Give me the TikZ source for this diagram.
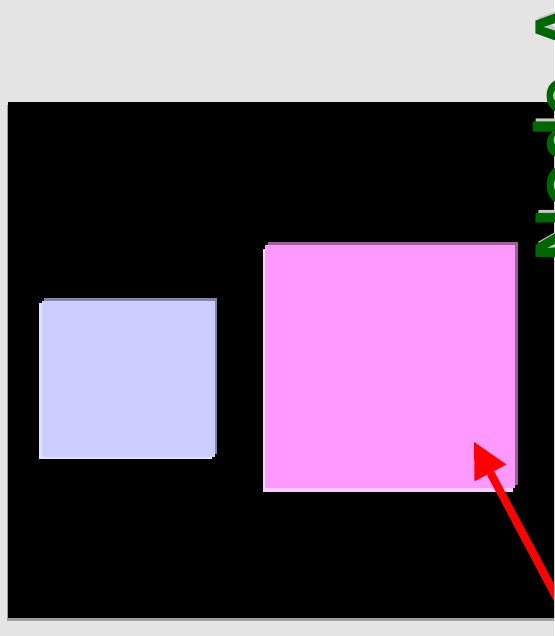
\documentclass[tikz,border=0pt]{standalone}
\usepackage{fontspec}
\setmainfont{Liberation Sans}
\usetikzlibrary{arrows.meta,shadows}

\definecolor{paper}{HTML}{E4E4E4}
\definecolor{lavender}{HTML}{CCCCFF}
\definecolor{lavenderdark}{HTML}{8484AA}
\definecolor{lavenderlight}{HTML}{E2E2FF}
\definecolor{pinkfill}{HTML}{FF99FF}
\definecolor{pinkdark}{HTML}{9C5F9C}
\definecolor{pinklight}{HTML}{FFCCFF}
\definecolor{titlegreen}{HTML}{006600}
\definecolor{titleshade}{HTML}{C8C8C8}

\begin{document}
\begin{tikzpicture}[
  x=1pt, y=-1pt,
  panel/.style={rectangle, inner sep=0pt, anchor=north west},
  screen/.style={panel, fill=black,
    general shadow={fill=gray!75, shadow xshift=-1.5pt, shadow yshift=-2.5pt}},
  smallbox/.style={panel, fill=lavender,
    general shadow={fill=lavenderlight, shadow xshift=-3pt, shadow yshift=-2pt},
    general shadow={fill=lavenderdark, shadow xshift=2pt, shadow yshift=3pt}},
  bigbox/.style={panel, fill=pinkfill,
    general shadow={fill=pinklight, shadow xshift=-2pt, shadow yshift=-4pt},
    general shadow={fill=pinkdark, shadow xshift=3pt, shadow yshift=3pt}},
  title/.style={inner sep=0pt, rotate=90, anchor=north west,
    font=\bfseries\fontsize{75}{75}\selectfont},
  pointer/.style={draw=red, line width=8pt,
    -{Triangle[length=35pt, width=36pt, line width=0pt]}}
]
\useasboundingbox (0,0) rectangle (554,636);
\clip (0,0) rectangle (554,636);
\fill[paper] (0,0) rectangle (554,636);

% screen and the two windows
\node[screen, minimum width=560pt, minimum height=516pt] (screen) at (8,102) {};
\node[smallbox, minimum width=173pt, minimum height=156pt] (small) at (42,301) {};
\node[bigbox, minimum width=250pt, minimum height=243pt] (big) at (265,245) {};

% heading, cut by the right edge
\node[title, text=titleshade] (titleshadow) at (536,260) {Node A};
\node[title, text=titlegreen] (title) at (533,263) {Node A};

% pointer into the big window
\coordinate (tail) at (577,636);
\coordinate (tip) at (474,442);
\draw[pointer] (tail) -- (tip);
\end{tikzpicture}
\end{document}
